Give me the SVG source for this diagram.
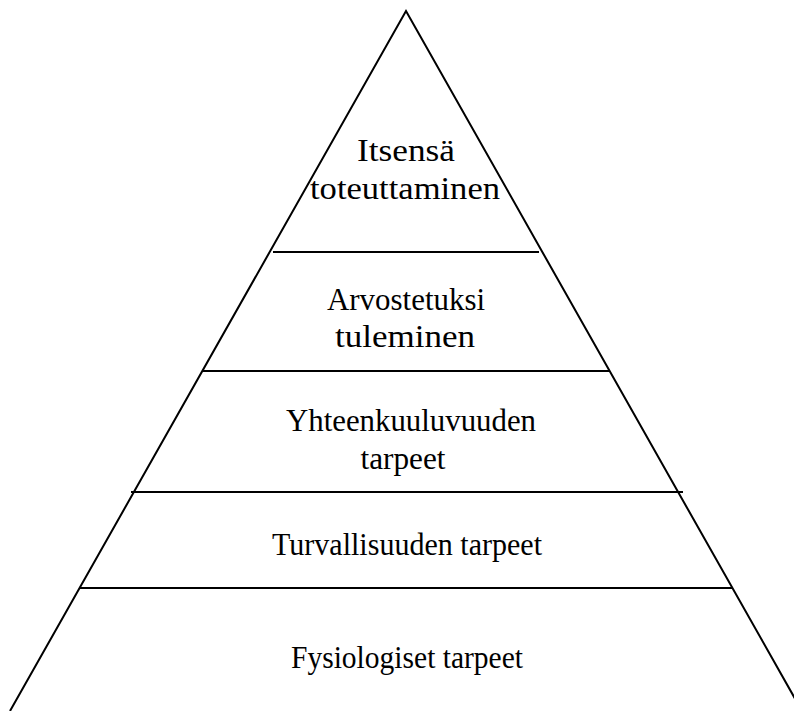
<svg xmlns="http://www.w3.org/2000/svg" width="794" height="711" viewBox="0 0 794 711">
<style>
.ln{stroke:#000;stroke-width:2;fill:none}
text{font-family:"Liberation Serif","Times New Roman",serif;font-size:32px;fill:#000;text-anchor:middle}
</style>
<rect width="794" height="711" fill="#fff"/>
<g id="connectors">
<path class="ln" d="M10,711 L406,11 L802,711"/>
<line class="ln" x1="273" y1="252" x2="539" y2="252"/>
<line class="ln" x1="203" y1="371" x2="609" y2="371"/>
<line class="ln" x1="131" y1="492" x2="683" y2="492"/>
<line class="ln" x1="80" y1="588" x2="733" y2="588"/>
</g>
<g id="level5"><text x="406" y="161" textLength="98" lengthAdjust="spacingAndGlyphs">Itsensä</text><text x="405" y="199" textLength="190" lengthAdjust="spacingAndGlyphs">toteuttaminen</text></g>
<g id="level4"><text x="406" y="310" textLength="158" lengthAdjust="spacingAndGlyphs">Arvostetuksi</text><text x="405" y="347" textLength="140" lengthAdjust="spacingAndGlyphs">tuleminen</text></g>
<g id="level3"><text x="411" y="431" textLength="250" lengthAdjust="spacingAndGlyphs">Yhteenkuuluvuuden</text><text x="403" y="469" textLength="85" lengthAdjust="spacingAndGlyphs">tarpeet</text></g>
<g id="level2"><text x="407" y="555" textLength="270" lengthAdjust="spacingAndGlyphs">Turvallisuuden tarpeet</text></g>
<g id="level1"><text x="407" y="668" textLength="232" lengthAdjust="spacingAndGlyphs">Fysiologiset tarpeet</text></g>
</svg>
